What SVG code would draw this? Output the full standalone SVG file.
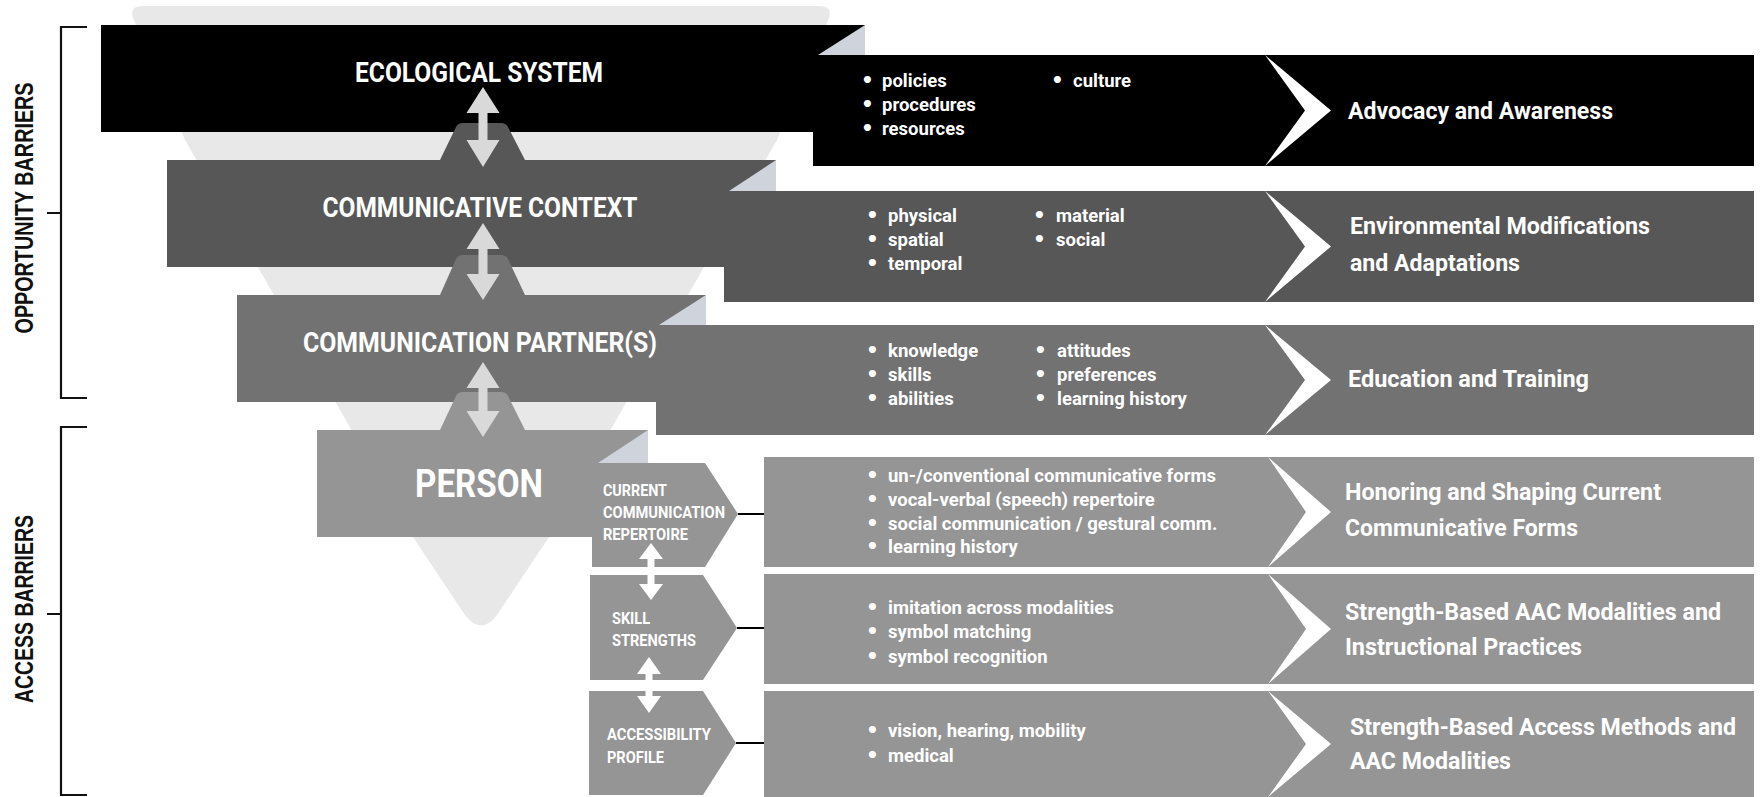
<svg xmlns="http://www.w3.org/2000/svg" width="1761" height="797" viewBox="0 0 1761 797">
<style>
.funnel{fill:#e8e8e8}
.c1{fill:#000000}
.c2{fill:#575757}
.c3{fill:#727272}
.c4{fill:#959595}
.fold{fill:#cfd3db}
.chev{fill:#ffffff}
.ttl{font-family:Roboto,"Liberation Sans",sans-serif;font-weight:bold;fill:#ffffff;text-anchor:middle}
.sub{font-family:Roboto,"Liberation Sans",sans-serif;font-weight:bold;fill:#ffffff;font-size:16px}
.bul{font-family:Roboto,"Liberation Sans",sans-serif;font-weight:bold;fill:#ffffff;font-size:18.5px}
.dot{font-family:"DejaVu Sans",sans-serif;font-size:20px}
.res{font-family:Roboto,"Liberation Sans",sans-serif;font-weight:bold;fill:#ffffff;font-size:24px}
.side{font-family:"Liberation Sans",Arial,sans-serif;font-weight:bold;fill:#111111;font-size:26px;text-anchor:middle}
.brk{fill:none;stroke:#111111;stroke-width:2.2}
.conn{fill:none;stroke:#000000;stroke-width:2}
.marrow{fill:#d9d9d9}
.sarrow{fill:#ffffff}
</style>

<g id="brackets">
  <path class="brk" d="M87,27 H61 V398 H87 M47,213 H61"/>
  <text class="side" transform="translate(33,208) rotate(-90)" textLength="251" lengthAdjust="spacingAndGlyphs">OPPORTUNITY BARRIERS</text>
  <path class="brk" d="M87,427 H61 V795 H87 M47,614 H61"/>
  <text class="side" transform="translate(33,609) rotate(-90)" textLength="188" lengthAdjust="spacingAndGlyphs">ACCESS BARRIERS</text>
</g>

<g id="funnel">
  <path class="funnel" d="M143,6 H819 Q833,6 829,18 L777,140 L549,537 L497,615 Q481,636 465,615 L413,537 L185,140 L133,18 Q129,6 143,6 Z"/>
</g>

<g id="row1-ecological">
  <rect class="c1" x="101" y="25" width="764" height="107"/>
  <polygon class="fold" points="865,25 865,55 818,55"/>
  <rect class="c1" x="813" y="55" width="941" height="111"/>
  <polygon class="chev" points="1265,55 1331,110.5 1265,166 1305,110.5"/>
  <text class="ttl" x="479" y="82" font-size="27" textLength="248" lengthAdjust="spacingAndGlyphs">ECOLOGICAL SYSTEM</text>
  <text class="bul" y="87"><tspan class="dot" x="861">•</tspan><tspan x="882">policies</tspan></text>
  <text class="bul" y="111"><tspan class="dot" x="861">•</tspan><tspan x="882">procedures</tspan></text>
  <text class="bul" y="135"><tspan class="dot" x="861">•</tspan><tspan x="882">resources</tspan></text>
  <text class="bul" y="87"><tspan class="dot" x="1051">•</tspan><tspan x="1073">culture</tspan></text>
  <text class="res" x="1348" y="119" textLength="265" lengthAdjust="spacingAndGlyphs">Advocacy and Awareness</text>
</g>

<g id="row2-context">
  <rect class="c2" x="167" y="160" width="609" height="107"/>
  <path class="c2" d="M440,160 L456,127 Q458,123 463,123 H501 Q506,123 508,127 L525,160 Z"/>
  <polygon class="fold" points="776,160 776,191 729,191"/>
  <rect class="c2" x="724" y="191" width="1030" height="111"/>
  <polygon class="chev" points="1265,191 1331,246.5 1265,302 1305,246.5"/>
  <text class="ttl" x="480" y="217" font-size="27" textLength="315" lengthAdjust="spacingAndGlyphs">COMMUNICATIVE CONTEXT</text>
  <text class="bul" y="222"><tspan class="dot" x="866">•</tspan><tspan x="888">physical</tspan></text>
  <text class="bul" y="246"><tspan class="dot" x="866">•</tspan><tspan x="888">spatial</tspan></text>
  <text class="bul" y="270"><tspan class="dot" x="866">•</tspan><tspan x="888">temporal</tspan></text>
  <text class="bul" y="222"><tspan class="dot" x="1033">•</tspan><tspan x="1056">material</tspan></text>
  <text class="bul" y="246"><tspan class="dot" x="1033">•</tspan><tspan x="1056">social</tspan></text>
  <text class="res" x="1350" y="234" textLength="300" lengthAdjust="spacingAndGlyphs">Environmental Modifications</text>
  <text class="res" x="1350" y="271" textLength="170" lengthAdjust="spacingAndGlyphs">and Adaptations</text>
</g>

<g id="row3-partners">
  <rect class="c3" x="237" y="295" width="469" height="107"/>
  <path class="c3" d="M440,295 L456,259 Q458,255 463,255 H501 Q506,255 508,259 L525,295 Z"/>
  <polygon class="fold" points="706,295 706,325 659,325"/>
  <rect class="c3" x="656" y="325" width="1098" height="110"/>
  <polygon class="chev" points="1265,325 1331,380 1265,435 1305,380"/>
  <text class="ttl" x="480" y="352" font-size="27" textLength="354" lengthAdjust="spacingAndGlyphs">COMMUNICATION PARTNER(S)</text>
  <text class="bul" y="357"><tspan class="dot" x="866">•</tspan><tspan x="888">knowledge</tspan></text>
  <text class="bul" y="381"><tspan class="dot" x="866">•</tspan><tspan x="888">skills</tspan></text>
  <text class="bul" y="405"><tspan class="dot" x="866">•</tspan><tspan x="888">abilities</tspan></text>
  <text class="bul" y="357"><tspan class="dot" x="1034">•</tspan><tspan x="1057">attitudes</tspan></text>
  <text class="bul" y="381"><tspan class="dot" x="1034">•</tspan><tspan x="1057">preferences</tspan></text>
  <text class="bul" y="405"><tspan class="dot" x="1034">•</tspan><tspan x="1057">learning history</tspan></text>
  <text class="res" x="1348" y="387" textLength="241" lengthAdjust="spacingAndGlyphs">Education and Training</text>
</g>

<g id="row4-person">
  <rect class="c4" x="317" y="430" width="331" height="107"/>
  <path class="c4" d="M440,430 L456,396 Q458,392 463,392 H501 Q506,392 508,396 L525,430 Z"/>
  <polygon class="fold" points="648,430 648,463 598,463"/>
  <text class="ttl" x="479" y="497" font-size="38" textLength="128" lengthAdjust="spacingAndGlyphs">PERSON</text>
</g>

<g id="sub-repertoire">
  <polygon class="c4" points="592,463 705,463 738,514 705,567 592,567"/>
  <text class="sub" x="603" y="496" textLength="64" lengthAdjust="spacingAndGlyphs">CURRENT</text>
  <text class="sub" x="603" y="518" textLength="122" lengthAdjust="spacingAndGlyphs">COMMUNICATION</text>
  <text class="sub" x="603" y="540" textLength="85" lengthAdjust="spacingAndGlyphs">REPERTOIRE</text>
  <rect class="c4" x="764" y="457" width="990" height="110"/>
  <polygon class="chev" points="1268,457 1331,512 1268,567 1306,512"/>
  <text class="bul" y="482"><tspan class="dot" x="866">•</tspan><tspan x="888">un-/conventional communicative forms</tspan></text>
  <text class="bul" y="506"><tspan class="dot" x="866">•</tspan><tspan x="888">vocal-verbal (speech) repertoire</tspan></text>
  <text class="bul" y="530"><tspan class="dot" x="866">•</tspan><tspan x="888">social communication / gestural comm.</tspan></text>
  <text class="bul" y="553"><tspan class="dot" x="866">•</tspan><tspan x="888">learning history</tspan></text>
  <text class="res" x="1345" y="500" textLength="316" lengthAdjust="spacingAndGlyphs">Honoring and Shaping Current</text>
  <text class="res" x="1345" y="536" textLength="233" lengthAdjust="spacingAndGlyphs">Communicative Forms</text>
</g>

<g id="sub-skills">
  <polygon class="c4" points="590,575 703,575 737,628 703,680 590,680"/>
  <text class="sub" x="612" y="624" textLength="38" lengthAdjust="spacingAndGlyphs">SKILL</text>
  <text class="sub" x="612" y="646" textLength="84" lengthAdjust="spacingAndGlyphs">STRENGTHS</text>
  <rect class="c4" x="764" y="574" width="990" height="110"/>
  <polygon class="chev" points="1268,574 1331,629 1268,684 1306,629"/>
  <text class="bul" y="614"><tspan class="dot" x="866">•</tspan><tspan x="888">imitation across modalities</tspan></text>
  <text class="bul" y="638"><tspan class="dot" x="866">•</tspan><tspan x="888">symbol matching</tspan></text>
  <text class="bul" y="663"><tspan class="dot" x="866">•</tspan><tspan x="888">symbol recognition</tspan></text>
  <text class="res" x="1345" y="620" textLength="376" lengthAdjust="spacingAndGlyphs">Strength-Based AAC Modalities and</text>
  <text class="res" x="1345" y="655" textLength="237" lengthAdjust="spacingAndGlyphs">Instructional Practices</text>
</g>

<g id="sub-accessibility">
  <polygon class="c4" points="589,691 703,691 736,743 703,795 589,795"/>
  <text class="sub" x="607" y="740" textLength="104" lengthAdjust="spacingAndGlyphs">ACCESSIBILITY</text>
  <text class="sub" x="607" y="763" textLength="57" lengthAdjust="spacingAndGlyphs">PROFILE</text>
  <rect class="c4" x="764" y="691" width="990" height="106"/>
  <polygon class="chev" points="1268,691 1331,744 1268,797 1306,744"/>
  <text class="bul" y="737"><tspan class="dot" x="866">•</tspan><tspan x="888">vision, hearing, mobility</tspan></text>
  <text class="bul" y="762"><tspan class="dot" x="866">•</tspan><tspan x="888">medical</tspan></text>
  <text class="res" x="1350" y="735" textLength="386" lengthAdjust="spacingAndGlyphs">Strength-Based Access Methods and</text>
  <text class="res" x="1350" y="769" textLength="161" lengthAdjust="spacingAndGlyphs">AAC Modalities</text>
</g>

<g id="connectors">
  <path class="marrow" d="M483,87 L499.5,113 L487.5,113 L487.5,140 L499.5,140 L483,167 L466.5,140 L478.5,140 L478.5,113 L466.5,113 Z"/>
  <path class="marrow" d="M483,223 L499.5,249 L487.5,249 L487.5,274 L499.5,274 L483,300 L466.5,274 L478.5,274 L478.5,249 L466.5,249 Z"/>
  <path class="marrow" d="M483,362 L499.5,388 L487.5,388 L487.5,411 L499.5,411 L483,437 L466.5,411 L478.5,411 L478.5,388 L466.5,388 Z"/>
  <path class="sarrow" d="M651,543 L663,559 L654.5,559 L654.5,584 L663,584 L651,600 L639,584 L647.5,584 L647.5,559 L639,559 Z"/>
  <path class="sarrow" d="M649,657 L661,674 L652.5,674 L652.5,696 L661,696 L649,713 L637,696 L645.5,696 L645.5,674 L637,674 Z"/>
  <path class="conn" d="M738,514 H764 M737,628 H764 M736,743 H764"/>
</g>
</svg>
